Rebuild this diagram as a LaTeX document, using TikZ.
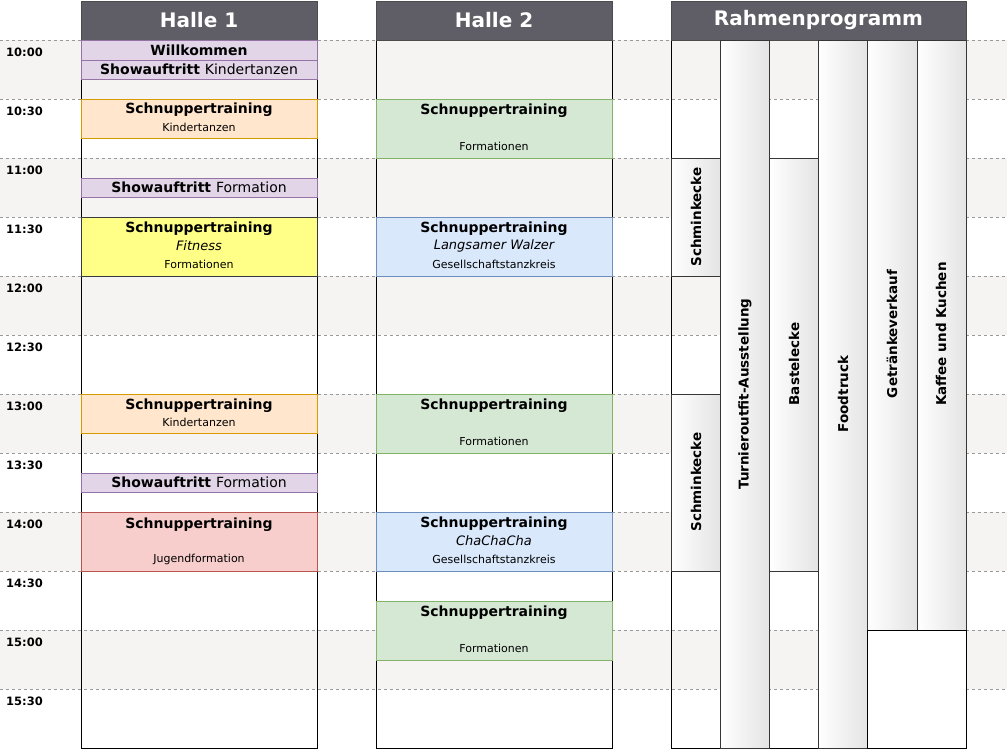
\documentclass[tikz,border=0pt]{standalone}
\usepackage{fontspec}
\setmainfont{DejaVu Sans}
\definecolor{hdr}{HTML}{5F5E66}
\definecolor{rowshade}{HTML}{F5F4F2}
\tikzset{
 pu/.style={draw={rgb,255:red,150;green,115;blue,166},fill={rgb,255:red,225;green,213;blue,231}},
 orb/.style={draw={rgb,255:red,215;green,155;blue,0},fill={rgb,255:red,255;green,230;blue,204}},
 ye/.style={draw={rgb,255:red,54;green,57;blue,61},fill={rgb,255:red,255;green,255;blue,136}},
 rd/.style={draw={rgb,255:red,184;green,84;blue,80},fill={rgb,255:red,248;green,206;blue,204}},
 gr/.style={draw={rgb,255:red,130;green,179;blue,102},fill={rgb,255:red,213;green,232;blue,212}},
 bl/.style={draw={rgb,255:red,108;green,142;blue,191},fill={rgb,255:red,218;green,232;blue,252}},
 gd/.style={draw={rgb,255:red,54;green,54;blue,54},left color=white,right color={rgb,255:red,228;green,228;blue,228},line width=0.5pt},
 tt/.style={font=\fontsize{14}{16}\selectfont\bfseries,inner sep=0pt},
 st/.style={font=\fontsize{13}{15}\selectfont\itshape,inner sep=0pt},
 sm/.style={font=\fontsize{11}{13}\selectfont,inner sep=0pt},
 tm/.style={font=\fontsize{11.5}{13}\selectfont\bfseries,anchor=west,inner sep=0pt},
 hd/.style={fill=hdr,draw=black!70,text=white,font=\fontsize{20}{22}\selectfont\bfseries},
 vt/.style={rotate=90,font=\fontsize{13.5}{15}\selectfont\bfseries,inner sep=0pt},
}
\begin{document}
\begin{tikzpicture}[x=1pt,y=-1pt]
\useasboundingbox (0,0) rectangle (1007,750);
\foreach \y in {40,158,276,394,512,630} \fill[rowshade] (0,\y) rectangle (1007,\y+59);
\foreach \y in {40,99,...,689} \draw[black!40,dashed,line width=0.6pt] (0,\y) -- (1007,\y);
\foreach \t [count=\i from 0] in {10:00,10:30,11:00,11:30,12:00,12:30,13:00,13:30,14:00,14:30,15:00,15:30}
  \node[tm] (t\i) at (6,52+59*\i) {\t};
\draw[line width=0.5pt] (81,40) rectangle (317,748);
\draw[line width=0.5pt] (376,40) rectangle (612,748);
\draw[line width=0.5pt] (671,40) rectangle (966,748);
\draw[hd] (81,1) rectangle (317,40) node[midway] (h1) {Halle 1};
\draw[hd] (376,1) rectangle (612,40) node[midway] (h2) {Halle 2};
\draw[hd] (671,1) rectangle (966,40) node[midway] (h3) {Rahmenprogramm};
% Halle 1
\draw[pu] (81,40) rectangle (317,60); \node[tt] (a1) at (199,50) {Willkommen};
\draw[pu] (81,60) rectangle (317,79); \node[tt] (a2) at (199,69.5) {Showauftritt \mdseries Kindertanzen};
\draw[orb] (81,99) rectangle (317,138); \node[tt] (a3) at (199,110) {Schnuppertraining}; \node[sm] (a3s) at (199,127) {Kindertanzen};
\draw[pu] (81,178) rectangle (317,197); \node[tt] (a4) at (199,187.5) {Showauftritt \mdseries Formation};
\draw[ye] (81,217) rectangle (317,276); \node[tt] (a5) at (199,229) {Schnuppertraining}; \node[st] (a5a) at (199,246) {Fitness}; \node[sm] (a5b) at (199,264) {Formationen};
\draw[orb] (81,394) rectangle (317,433); \node[tt] (a6) at (199,406) {Schnuppertraining}; \node[sm] (a6s) at (199,422) {Kindertanzen};
\draw[pu] (81,473) rectangle (317,492); \node[tt] (a7) at (199,482.5) {Showauftritt \mdseries Formation};
\draw[rd] (81,512) rectangle (317,571); \node[tt] (a8) at (199,525) {Schnuppertraining}; \node[sm] (a8s) at (199,559) {Jugendformation};
% Halle 2
\draw[gr] (376,99) rectangle (612,158); \node[tt] (b1) at (494,111) {Schnuppertraining}; \node[sm] (b1s) at (494,146) {Formationen};
\draw[bl] (376,217) rectangle (612,276); \node[tt] (b2) at (494,229) {Schnuppertraining}; \node[st] (b2a) at (494,246) {Langsamer Walzer}; \node[sm] (b2b) at (494,264) {Gesellschaftstanzkreis};
\draw[gr] (376,394) rectangle (612,453); \node[tt] (b3) at (494,406) {Schnuppertraining}; \node[sm] (b3s) at (494,441) {Formationen};
\draw[bl] (376,512) rectangle (612,571); \node[tt] (b4) at (494,524) {Schnuppertraining}; \node[st] (b4a) at (494,541) {ChaChaCha}; \node[sm] (b4b) at (494,559) {Gesellschaftstanzkreis};
\draw[gr] (376,601) rectangle (612,660); \node[tt] (b5) at (494,613) {Schnuppertraining}; \node[sm] (b5s) at (494,648) {Formationen};
% Rahmenprogramm
\draw[gd] (671,158) rectangle (720,276); \node[vt] (c1) at (696,217) {Schminkecke};
\draw[gd] (671,394) rectangle (720,571); \node[vt] (c2) at (696,482) {Schminkecke};
\draw[gd] (720,40) rectangle (769,748); \node[vt] (c3) at (745,394) {Turnieroutfit-Ausstellung};
\draw[gd] (769,158) rectangle (818,571); \node[vt] (c4) at (794,364) {Bastelecke};
\draw[gd] (818,40) rectangle (867,748); \node[vt] (c5) at (843,394) {Foodtruck};
\draw[gd] (867,40) rectangle (917,630); \node[vt] (c6) at (892,334) {Getränkeverkauf};
\draw[gd] (917,40) rectangle (966,630); \node[vt] (c7) at (941,334) {Kaffee und Kuchen};
\draw[line width=0.5pt,fill=white] (867,630) rectangle (966,748);
\end{tikzpicture}
\end{document}
